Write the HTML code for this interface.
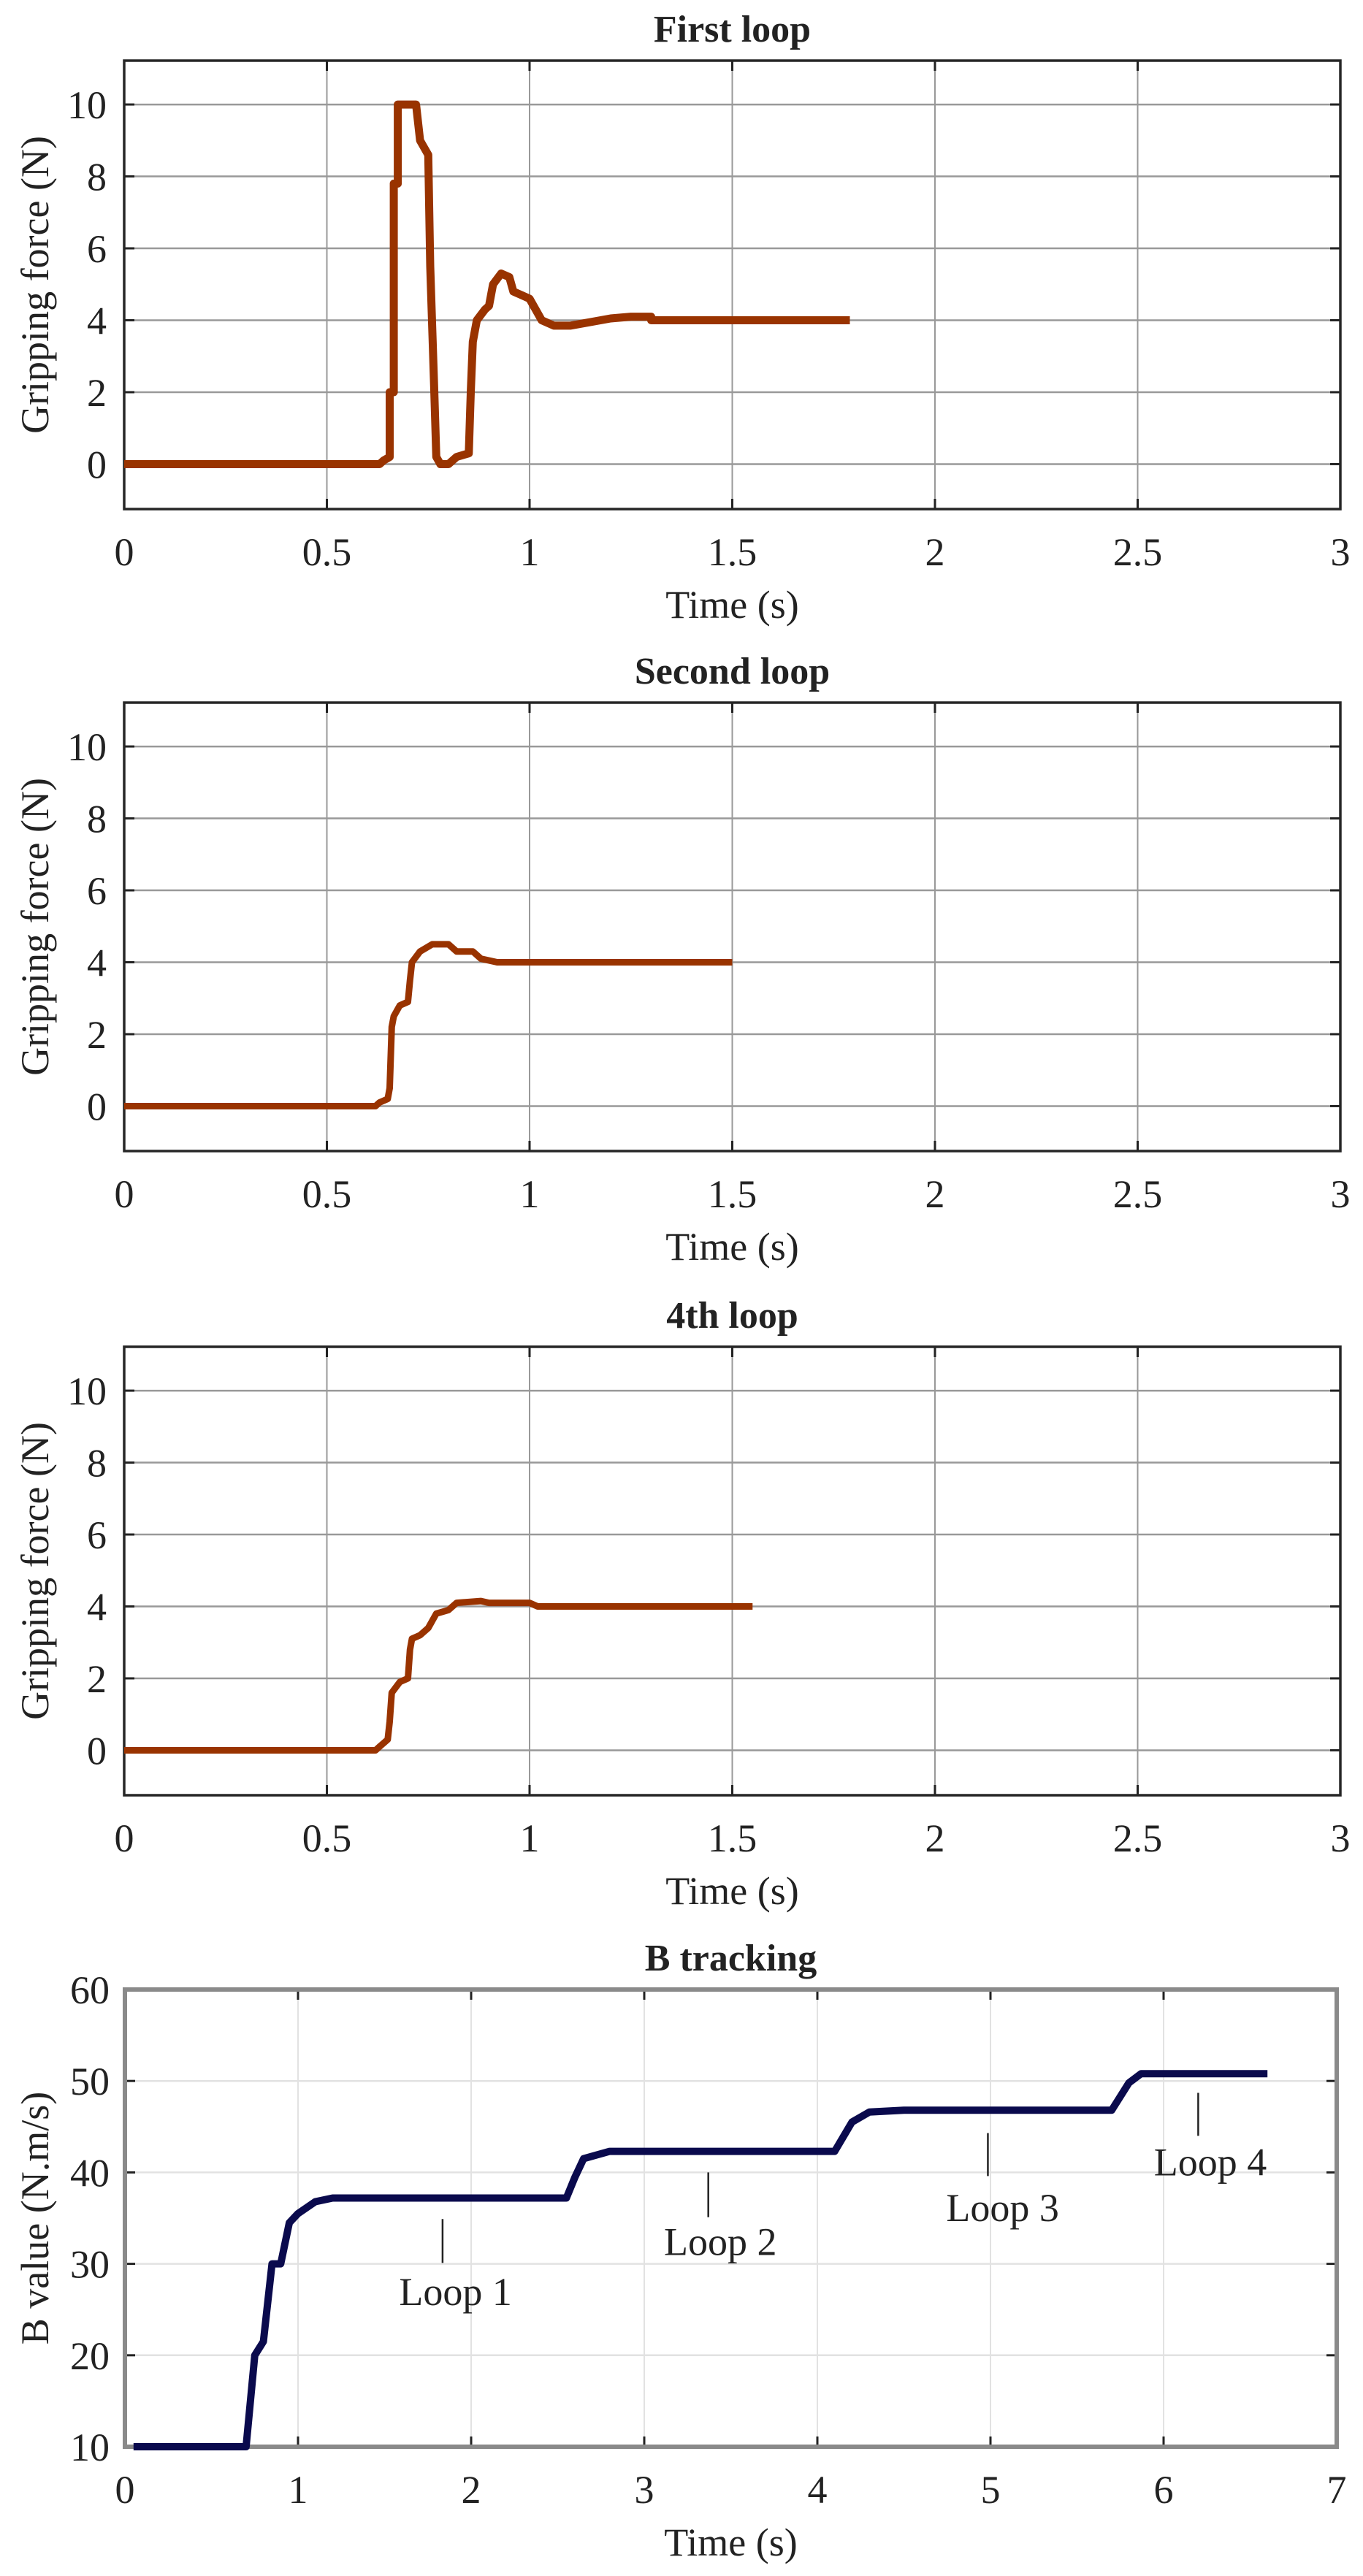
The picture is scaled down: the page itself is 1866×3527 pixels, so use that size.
<!DOCTYPE html>
<html><head><meta charset="utf-8"><style>
html,body{margin:0;padding:0;background:#fff;}
svg{display:block;}
text{font-family:"Liberation Serif",serif;fill:#222;}
</style></head><body>
<svg id="s" width="1866" height="3527" xmlns="http://www.w3.org/2000/svg"></svg>
<script>
const S=document.getElementById('s');let h='';
function plot(o){
 const {L,R,T,B,x0,x1,y0,y1,xt,yt,grid,title,ylab,data,col,lw,ylx,yrx,box,bw}=o;
 const X=v=>L+(v-x0)/(x1-x0)*(R-L), Y=v=>B-(v-y0)/(y1-y0)*(B-T);
 for(const v of xt){const x=X(v);
  if(v>x0&&v<x1)h+=`<line x1="${x}" y1="${T}" x2="${x}" y2="${B}" stroke="${grid}" stroke-width="2"/>`;
  h+=`<line x1="${x}" y1="${B}" x2="${x}" y2="${B-14}" stroke="#222" stroke-width="3"/><line x1="${x}" y1="${T}" x2="${x}" y2="${T+14}" stroke="#222" stroke-width="3"/>`;
  h+=`<text x="${x}" y="${B+77}" font-size="54" text-anchor="middle">${v}</text>`;}
 for(const v of yt){const y=Y(v);
  if(v>y0&&v<y1)h+=`<line x1="${L}" y1="${y}" x2="${R}" y2="${y}" stroke="${grid}" stroke-width="2.5"/>`;
  h+=`<line x1="${L}" y1="${y}" x2="${L+14}" y2="${y}" stroke="#222" stroke-width="3"/><line x1="${R}" y1="${y}" x2="${R-14}" y2="${y}" stroke="#222" stroke-width="3"/>`;
  h+=`<text x="${yrx}" y="${y+19}" font-size="54" text-anchor="end">${v}</text>`;}
 h+=`<rect x="${L}" y="${T}" width="${R-L}" height="${B-T}" fill="none" stroke="${box}" stroke-width="${bw}"/>`;
 h+=`<polyline fill="none" stroke="${col}" stroke-width="${lw}" stroke-linejoin="round" points="${data.map(p=>X(p[0]).toFixed(1)+','+Y(p[1]).toFixed(1)).join(' ')}"/>`;
 h+=`<text x="${(L+R)/2}" y="${T-26}" font-size="52" font-weight="bold" text-anchor="middle">${title}</text>`;
 h+=`<text x="${(L+R)/2}" y="${B+149}" font-size="54" text-anchor="middle">Time (s)</text>`;
 h+=`<text transform="translate(${ylx},${(T+B)/2}) rotate(-90)" font-size="54" text-anchor="middle">${ylab}</text>`;
 if(o.ann)for(const a of o.ann){h+=`<line x1="${X(a[0])}" y1="${Y(a[1])}" x2="${X(a[0])}" y2="${Y(a[2])}" stroke="#222" stroke-width="2.5"/><text x="${X(a[3])}" y="${Y(a[4])+19}" font-size="54" text-anchor="middle">${a[5]}</text>`;}
}
const d1=[[0,0],[0.63,0],[0.64,0.1],[0.655,0.2],[0.655,2],[0.665,2],[0.665,7.8],[0.675,7.8],[0.675,10],[0.72,10],[0.73,9],[0.74,8.8],[0.75,8.6],[0.755,5.5],[0.765,2],[0.77,0.2],[0.78,0],[0.8,0],[0.82,0.2],[0.85,0.3],[0.855,2],[0.86,3.4],[0.87,4],[0.89,4.3],[0.9,4.4],[0.91,5],[0.93,5.3],[0.95,5.2],[0.96,4.8],[0.98,4.7],[1.0,4.6],[1.03,4.0],[1.06,3.85],[1.1,3.85],[1.15,3.95],[1.2,4.05],[1.25,4.1],[1.3,4.1],[1.3,4.0],[1.79,4.0]];
const d2=[[0,0],[0.62,0],[0.63,0.1],[0.65,0.2],[0.655,0.5],[0.66,2.2],[0.665,2.5],[0.68,2.8],[0.7,2.9],[0.705,3.5],[0.71,4.0],[0.73,4.3],[0.76,4.5],[0.8,4.5],[0.82,4.3],[0.86,4.3],[0.88,4.1],[0.92,4.0],[1.5,4.0]];
const d3=[[0,0],[0.62,0],[0.63,0.1],[0.65,0.3],[0.655,0.8],[0.66,1.6],[0.68,1.9],[0.7,2.0],[0.705,2.8],[0.71,3.1],[0.73,3.2],[0.75,3.4],[0.77,3.8],[0.8,3.9],[0.82,4.1],[0.88,4.15],[0.9,4.1],[1.0,4.1],[1.02,4.0],[1.55,4.0]];
const d4=[[0.05,10],[0.7,10],[0.75,20],[0.8,21.5],[0.85,30],[0.9,30],[0.95,34.5],[1.0,35.5],[1.1,36.8],[1.2,37.2],[2.55,37.2],[2.6,39.5],[2.65,41.5],[2.8,42.3],[4.1,42.3],[4.2,45.5],[4.3,46.6],[4.5,46.8],[5.7,46.8],[5.8,49.8],[5.87,50.8],[6.6,50.8]];
const tops=[83,962,1844];const ds=[d1,d2,d3],ts=['First loop','Second loop','4th loop'],lws=[11,9,9];
tops.forEach((T,i)=>plot({L:170,R:1835,T:T,B:T+614,x0:0,x1:3,y0:-1.25,y1:11.22,xt:[0,0.5,1,1.5,2,2.5,3],yt:[0,2,4,6,8,10],grid:'#999',title:ts[i],ylab:'Gripping force (N)',data:ds[i],col:'#993300',lw:lws[i],ylx:66,yrx:146,box:'#262626',bw:3.5}));
plot({L:171,R:1830,T:2724,B:3350,x0:0,x1:7,y0:10,y1:60,xt:[0,1,2,3,4,5,6,7],yt:[10,20,30,40,50,60],grid:'#e2e2e2',title:'B tracking',ylab:'B value (N.m/s)',data:d4,col:'#0a0a4d',lw:10,ylx:66,yrx:150,box:'#8a8a8a',bw:6,
 ann:[[1.835,34.9,30.1,1.91,27,'Loop 1'],[3.37,40,35.1,3.44,32.5,'Loop 2'],[4.985,44.3,39.6,5.07,36.2,'Loop 3'],[6.2,48.7,44,6.27,41.2,'Loop 4']]});
S.innerHTML=h;
</script>
</body></html>
